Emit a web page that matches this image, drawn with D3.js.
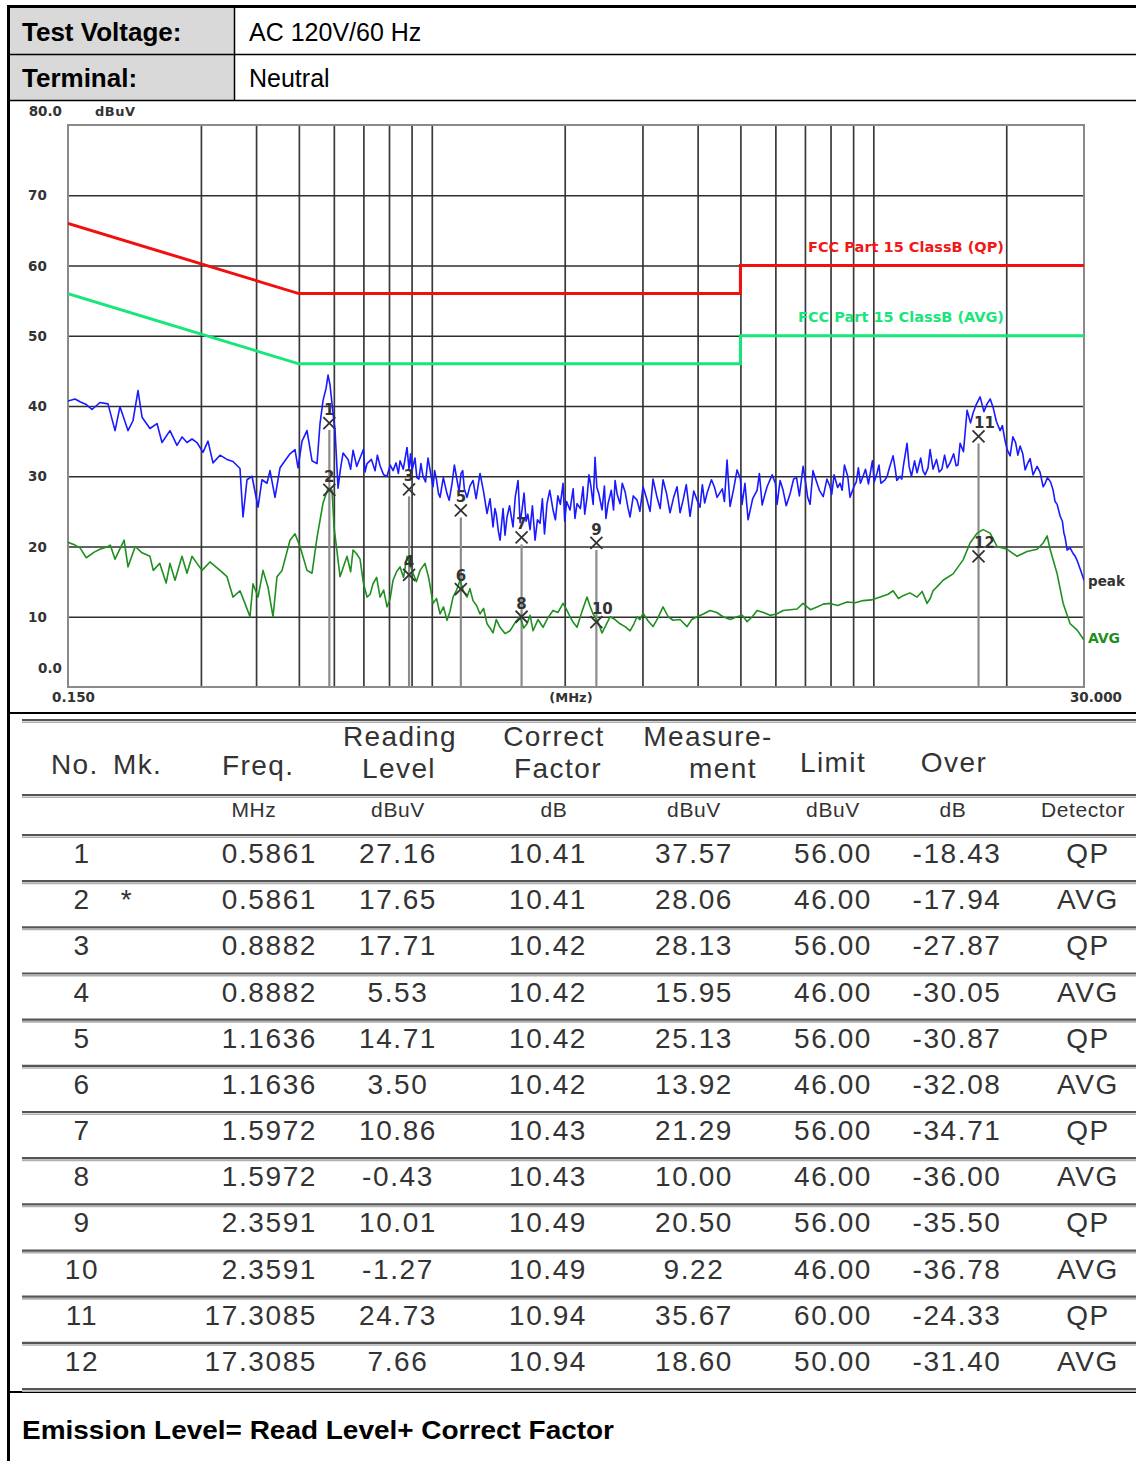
<!DOCTYPE html>
<html><head><meta charset="utf-8">
<script src="https://cdn.jsdelivr.net/npm/d3@7"></script>
<style>body{margin:0;background:#fff}svg{display:block}</style>
</head><body><svg id="c" width="1136" height="1461"></svg>
<script>
// ---------- data ----------
const headerLabels = ["Test Voltage:", "Terminal:"];
const headerValues = ["AC 120V/60 Hz", "Neutral"];
const yTicks = [0, 10, 20, 30, 40, 50, 60, 70, 80];
const yTickLabels = ["0.0", "10", "20", "30", "40", "50", "60", "70", "80.0"];
const xGrid = [0.3, 0.4, 0.5, 0.6, 0.7, 0.8, 0.9, 1, 2, 3, 4, 5, 6, 7, 8, 9, 10, 20];
const xEndLabels = ["0.150", "30.000"];
const xUnit = "(MHz)";
const yUnit = "dBuV";
const qpLimit = [[0.15, 66], [0.5, 56], [5, 56], [5, 60], [30, 60]];
const avgLimit = [[0.15, 56], [0.5, 46], [5, 46], [5, 50], [30, 50]];
const legendQP = "FCC  Part 15 ClassB (QP)";
const legendAVG = "FCC  Part 15 ClassB (AVG)";
const traceNames = ["peak", "AVG"];

// peak (blue) trace, [MHz, dBuV]
const peakTrace = [[0.150,40.7],[0.1556,41.0],[0.1597,40.6],[0.165,40.2],[0.170,39.5],[0.1772,40.5],[0.1848,40.3],[0.1917,36.5],[0.1967,39.9],[0.2051,36.5],[0.2105,37.9],[0.2161,42.2],[0.2207,38.4],[0.2300,36.8],[0.2386,37.5],[0.2449,34.8],[0.2553,36.5],[0.2648,34.4],[0.2720,35.6],[0.2790,34.8],[0.2864,35.3],[0.2939,34.8],[0.3032,33.4],[0.3113,35.0],[0.3195,31.9],[0.3314,33.0],[0.3437,32.4],[0.3546,32.1],[0.3678,31.1],[0.3736,24.2],[0.3815,29.5],[0.3916,30.0],[0.4041,25.6],[0.4125,29.5],[0.4234,29.0],[0.4301,30.8],[0.4415,27.0],[0.4532,31.2],[0.4651,32.2],[0.4774,33.2],[0.4900,33.8],[0.4978,31.2],[0.5083,35.0],[0.5217,36.5],[0.5355,32.2],[0.5497,31.8],[0.5583,37.5],[0.5672,40.8],[0.5761,42.5],[0.5822,44.4],[0.5882,43.0],[0.5944,40.3],[0.6038,36.5],[0.6133,28.3],[0.6210,31.0],[0.6295,33.3],[0.6462,32.4],[0.6633,33.7],[0.6760,31.4],[0.6879,32.6],[0.7000,33.8],[0.7135,31.8],[0.7300,32.4],[0.7440,30.8],[0.7636,31.5],[0.7780,30.2],[0.7919,30.0],[0.8050,31.6],[0.8171,30.8],[0.8300,31.9],[0.8474,32.2],[0.8620,31.0],[0.8788,34.1],[0.8880,31.0],[0.9020,30.8],[0.9162,32.6],[0.9350,29.6],[0.9552,30.0],[0.9805,32.6],[1.0065,28.5],[1.0250,29.5],[1.0439,27.0],[1.0827,27.5],[1.1115,29.0],[1.1408,29.4],[1.1649,30.4],[1.1850,28.2],[1.2018,27.0],[1.2399,29.4],[1.2861,30.4],[1.3100,27.8],[1.3337,24.7],[1.3761,22.8],[1.4000,24.6],[1.4276,20.9],[1.4804,24.2],[1.5274,22.8],[1.5681,29.4],[1.6010,25.2],[1.6350,23.6],[1.6692,22.4],[1.7134,20.9],[1.7586,23.3],[1.8237,26.1],[1.8818,25.2],[1.9300,27.2],[1.9827,29.0],[2.0200,26.4],[2.0564,25.2],[2.1329,26.1],[2.2007,28.5],[2.2469,27.0],[2.2900,28.8],[2.3429,32.7],[2.3900,27.5],[2.4299,25.2],[2.5073,26.1],[2.5500,28.0],[2.6007,29.4],[2.6694,26.1],[2.7400,27.8],[2.8121,24.2],[2.9166,26.6],[3.0093,28.5],[3.1212,25.0],[3.2372,27.0],[3.3401,29.5],[3.4000,27.6],[3.4640,24.8],[3.5933,28.5],[3.7076,26.6],[3.8451,24.3],[3.9885,26.6],[4.1000,28.8],[4.2020,27.6],[4.3000,29.5],[4.4268,27.0],[4.5500,28.2],[4.6634,32.3],[4.7370,25.7],[4.9136,30.9],[5.0435,26.0],[5.1200,29.0],[5.2040,23.8],[5.3300,26.8],[5.4545,28.0],[5.6000,25.9],[5.7461,28.5],[5.9000,30.2],[6.0539,26.0],[6.1500,29.4],[6.2465,28.0],[6.3500,25.8],[6.4779,27.5],[6.6000,29.6],[6.8000,27.2],[6.9327,31.4],[7.0500,28.4],[7.1897,26.0],[7.3000,30.8],[7.4574,29.0],[7.7000,27.1],[7.9797,28.5],[8.1500,30.2],[8.4075,29.0],[8.6000,31.6],[8.8569,27.0],[9.0500,28.6],[9.2500,31.2],[9.4794,30.0],[9.7500,28.9],[9.9500,32.2],[10.197,30.5],[10.400,29.0],[10.632,29.5],[10.850,31.0],[11.084,32.9],[11.300,29.4],[11.497,30.0],[11.700,31.5],[11.923,34.7],[12.200,30.0],[12.563,30.5],[12.800,32.6],[13.100,30.2],[13.443,33.8],[13.655,31.0],[14.100,30.6],[14.500,33.0],[14.920,31.9],[15.400,31.5],[15.722,34.7],[16.000,33.5],[16.305,39.4],[16.824,39.0],[17.451,41.3],[18.099,40.3],[18.675,39.8],[19.371,36.5],[19.883,35.0],[20.408,32.9],[21.000,34.8],[21.500,34.3],[22.068,30.9],[22.653,32.5],[23.495,31.4],[24.243,28.5],[24.800,29.8],[25.540,28.0],[26.079,26.0],[26.491,24.3],[27.000,22.0],[27.477,19.5],[28.351,19.0],[28.949,18.0],[29.406,16.8],[30.000,15.2]];
// extra jagged peak readings between the main points
const peakDetail = [[0.6550,31.0],[0.7060,30.6],[0.7530,33.0],[0.8400,30.4],[0.8950,33.2],[0.9250,29.8],[0.9450,31.8],[0.9680,29.2],[0.9930,30.6],[1.0150,30.8],[1.0350,27.6],[1.0620,29.8],[1.0950,26.6],[1.1250,31.6],[1.1530,27.8],[1.1750,30.8],[1.2200,28.6],[1.2600,26.8],[1.3550,26.8],[1.3900,25.4],[1.4150,22.2],[1.4500,25.4],[1.4650,21.6],[1.5000,25.8],[1.5450,27.0],[1.5850,23.4],[1.6180,27.6],[1.6500,24.6],[1.6900,25.8],[1.7350,23.8],[1.7800,26.8],[1.8000,21.8],[1.8500,28.0],[1.9050,23.8],[1.9550,26.0],[2.0000,23.6],[2.0900,28.2],[2.1100,24.0],[2.1700,25.4],[2.2200,24.6],[2.2700,30.2],[2.3200,26.0],[2.3650,28.4],[2.4600,28.6],[2.4800,24.0],[2.5800,25.2],[2.6300,27.4],[2.7000,29.0],[2.7800,25.6],[2.8600,27.2],[2.9600,25.0],[3.0600,27.0],[3.1700,29.6],[3.2900,25.4],[3.5300,27.0],[3.6500,24.8],[3.7700,28.8],[3.9200,27.9],[4.0500,25.6],[4.1500,26.2],[4.3700,28.4],[4.6000,26.4],[4.8200,28.0],[5.0000,29.6],[5.5200,30.4],[5.6800,27.4],[6.0000,29.0],[6.7000,29.8],[7.1000,27.0],[7.5500,28.0],[7.8500,29.6],[8.0500,27.4],[8.3000,28.4],[8.5000,28.0],[8.7500,30.0],[9.1500,29.2],[9.3500,29.0],[9.6000,31.0],[10.05,29.2],[10.30,31.6],[10.75,30.0],[11.20,31.2],[11.60,29.6],[12.05,31.4],[12.40,32.2],[12.95,30.8],[13.30,31.2],[13.90,32.4],[14.30,31.0],[14.70,31.2],[15.20,33.2],[15.55,31.6],[16.6,37.6],[17.1,40.2],[17.8,39.2],[18.4,41.0],[19.0,37.8],[19.6,37.2],[20.1,33.8],[20.7,35.6],[21.25,33.0],[21.8,33.2],[22.35,31.8],[23.0,30.2],[23.85,30.6],[24.5,29.0],[25.2,29.2],[25.8,26.4],[26.8,23.6],[27.2,21.2],[27.9,19.8],[28.65,18.6],[29.7,16.0]];

// average (green) trace, [MHz, dBuV]
const avgTrace = [[0.150,20.6],[0.1556,20.2],[0.1597,19.8],[0.1650,18.4],[0.1720,19.2],[0.1772,19.6],[0.1848,20.0],[0.1870,20.2],[0.1917,18.2],[0.2010,20.9],[0.2051,17.1],[0.2130,20.0],[0.2207,19.1],[0.2300,18.6],[0.2340,16.6],[0.2420,17.6],[0.2502,14.8],[0.2553,17.6],[0.2621,15.2],[0.2718,18.6],[0.2790,16.2],[0.2864,18.6],[0.2939,17.6],[0.3017,16.6],[0.3145,17.8],[0.3314,16.6],[0.3437,15.7],[0.3546,12.8],[0.3678,13.7],[0.3775,11.9],[0.3875,10.0],[0.3936,14.7],[0.4041,12.8],[0.4147,16.6],[0.4257,14.2],[0.4369,10.0],[0.4461,15.7],[0.4580,16.6],[0.4774,20.9],[0.4900,21.8],[0.5030,20.0],[0.5217,16.6],[0.5355,16.2],[0.5497,21.3],[0.5672,26.2],[0.5822,28.3],[0.5944,28.0],[0.6006,22.8],[0.6197,15.7],[0.6427,18.6],[0.6633,19.5],[0.6879,18.2],[0.7135,12.8],[0.7361,14.7],[0.7636,12.8],[0.7919,11.4],[0.8171,15.2],[0.8474,17.1],[0.8788,18.6],[0.9068,16.2],[0.9405,16.6],[0.9652,17.6],[1.0065,11.9],[1.0439,10.4],[1.0827,9.5],[1.1171,12.8],[1.1588,15.2],[1.2018,12.8],[1.2399,12.3],[1.2861,10.4],[1.3337,9.0],[1.3761,7.7],[1.4276,8.5],[1.5038,8.0],[1.5846,10.0],[1.6434,9.0],[1.6955,8.0],[1.7862,8.5],[1.8818,10.9],[1.9827,11.9],[2.0564,10.0],[2.1329,8.5],[2.2469,12.8],[2.3189,10.4],[2.4299,7.7],[2.5339,10.0],[2.6694,9.0],[2.8121,8.0],[2.9166,10.0],[3.0093,10.5],[3.1702,8.6],[3.3401,11.4],[3.5195,9.5],[3.7852,8.6],[3.9885,10.0],[4.2685,10.9],[4.5675,10.0],[4.9136,10.0],[5.1765,9.3],[5.4545,10.9],[5.8357,10.2],[6.2465,10.9],[6.7190,11.1],[6.9327,11.9],[7.4574,11.4],[7.9797,11.9],[8.7194,12.1],[9.4794,12.3],[10.361,12.8],[11.084,13.7],[11.681,13.0],[12.563,12.8],[13.234,11.9],[13.655,13.7],[14.388,15.2],[15.156,16.1],[15.970,18.1],[16.562,20.5],[17.180,21.9],[17.727,22.4],[18.384,21.9],[19.070,20.0],[20.088,19.6],[21.167,18.6],[22.295,19.3],[23.495,19.6],[24.243,20.5],[24.759,21.5],[25.142,19.6],[26.079,16.1],[26.910,11.9],[27.910,9.0],[28.949,8.1],[30.000,6.7]];
const avgDetail = [[0.6300,17.0],[0.6550,16.4],[0.6750,19.0],[0.7000,14.8],[0.7250,13.2],[0.7500,15.6],[0.7780,13.8],[0.8050,12.6],[0.8320,16.4],[0.8630,15.6],[0.8930,17.4],[0.9230,15.0],[0.9850,15.4],[1.0250,12.6],[1.0630,11.4],[1.1000,10.8],[1.1380,13.8],[1.1800,13.6],[1.2200,14.0],[1.2630,11.6],[1.3100,11.2],[1.3550,8.4],[1.4000,9.6],[1.4650,7.6],[1.5450,9.2],[1.6150,8.4],[1.6700,10.2],[1.7400,9.6],[1.8300,9.8],[1.9300,10.6],[2.0200,11.0],[2.0900,9.2],[2.1900,10.8],[2.2800,11.6],[2.3800,9.2],[2.4800,8.8],[2.6000,9.6],[2.7400,8.6],[2.8700,9.0],[2.9600,9.6],[3.0900,9.4],[3.2500,9.8],[3.4300,10.0],[3.6500,9.6],[3.8800,9.6],[4.1200,10.4],[4.4200,10.6],[4.7400,9.6],[5.0500,10.2],[5.3200,10.0],[5.6400,10.6],[6.0400,10.4],[6.4800,11.0],[7.2000,11.0],[7.7000,11.8],[8.3000,11.6],[9.1000,12.0],[9.9000,12.4],[10.80,13.2],[11.40,12.6],[12.10,13.4],[12.90,13.6],[13.45,12.6],[14.00,14.4]];

const tableNo = ["1","2","3","4","5","6","7","8","9","10","11","12"];
const tableMk = ["","*","","","","","","","","","",""];
const tableFreq = ["0.5861","0.5861","0.8882","0.8882","1.1636","1.1636","1.5972","1.5972","2.3591","2.3591","17.3085","17.3085"];
const tableReading = ["27.16","17.65","17.71","5.53","14.71","3.50","10.86","-0.43","10.01","-1.27","24.73","7.66"];
const tableCorrect = ["10.41","10.41","10.42","10.42","10.42","10.42","10.43","10.43","10.49","10.49","10.94","10.94"];
const tableMeasure = ["37.57","28.06","28.13","15.95","25.13","13.92","21.29","10.00","20.50","9.22","35.67","18.60"];
const tableLimit = ["56.00","46.00","56.00","46.00","56.00","46.00","56.00","46.00","56.00","46.00","60.00","50.00"];
const tableOver = ["-18.43","-17.94","-27.87","-30.05","-30.87","-32.08","-34.71","-36.00","-35.50","-36.78","-24.33","-31.40"];
const tableDetector = ["QP","AVG","QP","AVG","QP","AVG","QP","AVG","QP","AVG","QP","AVG"];
const tableHead1 = ["No.","Mk.","Freq.","Reading","Correct","Measure-","Limit","Over"];
const tableHead2 = ["","","","Level","Factor","ment","",""];
const tableUnits = ["MHz","dBuV","dB","dBuV","dBuV","dB","Detector"];
const footerText = "Emission Level= Read Level+ Correct Factor";

// ---------- drawing ----------
const svg = d3.select("#c");
const W = 1136, H = 1461;
const sans = "Liberation Sans, Arial, Helvetica, sans-serif";
const chartFont = "DejaVu Sans, sans-serif";

// header block
svg.append("rect").attr("x",10).attr("y",8).attr("width",224).attr("height",92).attr("fill","#d9d9d9");
svg.append("g").selectAll("text").data(headerLabels).join("text")
  .attr("x",22).attr("y",(d,i)=>41+i*46).attr("font-family",sans).attr("font-weight","bold")
  .attr("font-size",26).attr("fill","#000").text(d=>d);
svg.append("g").selectAll("text").data(headerValues).join("text")
  .attr("x",249).attr("y",(d,i)=>41+i*46).attr("font-family",sans)
  .attr("font-size",25).attr("fill","#000").text(d=>d);
const frame = svg.append("g").attr("stroke","#000").attr("fill","none");
frame.append("line").attr("x1",7).attr("x2",W).attr("y1",6.5).attr("y2",6.5).attr("stroke-width",3);
frame.append("line").attr("x1",8.5).attr("x2",8.5).attr("y1",5).attr("y2",H).attr("stroke-width",3);
frame.append("line").attr("x1",10).attr("x2",W).attr("y1",54.5).attr("y2",54.5).attr("stroke-width",1.5);
frame.append("line").attr("x1",10).attr("x2",W).attr("y1",100.5).attr("y2",100.5).attr("stroke-width",1.5);
frame.append("line").attr("x1",234.5).attr("x2",234.5).attr("y1",8).attr("y2",100).attr("stroke-width",1.5);
frame.append("line").attr("x1",10).attr("x2",W).attr("y1",713).attr("y2",713).attr("stroke-width",2);
frame.append("line").attr("x1",10).attr("x2",W).attr("y1",1392).attr("y2",1392).attr("stroke-width",2);

// chart
const x = d3.scaleLog().domain([0.15, 30]).range([68, 1084]);
const y = d3.scaleLinear().domain([0, 80]).range([687, 125]);
const pw = 1084 - 68, ph = 687 - 125;
const chart = svg.append("g");
svg.append("defs").append("clipPath").attr("id","clip").append("rect")
  .attr("x",68).attr("y",125).attr("width",pw).attr("height",ph);

const gx = chart.append("g").attr("transform","translate(0,687)")
  .call(d3.axisBottom(x).tickValues(xGrid).tickSize(-ph).tickFormat(""));
gx.select(".domain").remove();
gx.selectAll(".tick line").attr("stroke","#3a3a3a").attr("stroke-width",1.7);
const gy = chart.append("g").attr("transform","translate(68,0)")
  .call(d3.axisLeft(y).tickValues(yTicks.slice(1,-1)).tickSize(-pw).tickFormat(""));
gy.select(".domain").remove();
gy.selectAll(".tick line").attr("stroke","#2e2e2e").attr("stroke-width",1.7);
chart.append("rect").attr("x",68).attr("y",125).attr("width",pw).attr("height",ph)
  .attr("fill","none").attr("stroke","#8a8a8a").attr("stroke-width",2);

// marker vertical lines
const markerFreq = tableFreq.map(Number);
const markerLevel = tableMeasure.map(Number);
const mlines = d3.rollups(markerFreq.map((f,i)=>[f,markerLevel[i]]), v=>d3.max(v,d=>d[1]), d=>d[0]);
chart.append("g").selectAll("line").data(mlines).join("line")
  .attr("x1",d=>x(d[0])).attr("x2",d=>x(d[0])).attr("y1",d=>y(d[1])+7).attr("y2",687)
  .attr("stroke","#8c8c8c").attr("stroke-width",2.2);

// y tick labels
const lblFill = "#333";
chart.append("g").selectAll("text").data(yTicks).join("text")
  .attr("x",(d,i)=> (i===0||i===yTicks.length-1) ? 62 : 28)
  .attr("text-anchor",(d,i)=> (i===0||i===yTicks.length-1) ? "end" : "start")
  .attr("y",(d,i)=> i===0 ? y(d)-14 : (i===yTicks.length-1 ? y(d)-9 : y(d)+5))
  .attr("font-family",chartFont).attr("font-weight","bold").attr("font-size",13.5)
  .attr("fill",lblFill).text((d,i)=>yTickLabels[i]);
chart.append("text").attr("x",95).attr("y",y(80)-9).attr("font-family",chartFont).attr("font-weight","bold")
  .attr("font-size",13).attr("fill",lblFill).attr("textLength",40).text(yUnit);
chart.append("g").selectAll("text").data([0.15,30]).join("text")
  .attr("x",(d,i)=> i===0 ? x(d)-16 : x(d)+38).attr("text-anchor",(d,i)=> i===0 ? "start" : "end")
  .attr("y",702).attr("font-family",chartFont).attr("font-weight","bold").attr("font-size",13.5)
  .attr("fill",lblFill).attr("textLength",(d,i)=> i===0 ? 43 : 52).text((d,i)=>xEndLabels[i]);
chart.append("text").attr("x",571).attr("y",702).attr("text-anchor","middle").attr("font-family",chartFont)
  .attr("font-weight","bold").attr("font-size",13).attr("fill",lblFill).text(xUnit);

// limit lines
const line = d3.line().x(d=>x(d[0])).y(d=>y(d[1]));
const plot = chart.append("g").attr("clip-path","url(#clip)");
plot.append("path").datum(avgLimit).attr("d",line).attr("fill","none").attr("stroke","#17e67a").attr("stroke-width",3);
plot.append("path").datum(qpLimit).attr("d",line).attr("fill","none").attr("stroke","#f01010").attr("stroke-width",3);

// traces
const byFreq = (a,b)=>a[0]-b[0];
const avgAll = avgTrace.concat(avgDetail).sort(byFreq);
const peakAll = peakTrace.concat(peakDetail).sort(byFreq);
plot.append("path").datum(avgAll).attr("d",line).attr("fill","none").attr("stroke","#1f8f1f")
  .attr("stroke-width",1.6).attr("stroke-linejoin","round");
plot.append("path").datum(peakAll).attr("d",line).attr("fill","none").attr("stroke","#1a1aff")
  .attr("stroke-width",1.6).attr("stroke-linejoin","round");

// legend texts
chart.append("text").attr("x",1004).attr("y",252).attr("text-anchor","end").attr("font-family",chartFont)
  .attr("font-weight","bold").attr("font-size",14).attr("fill","#f01818").attr("textLength",196)
  .attr("lengthAdjust","spacingAndGlyphs").text(legendQP);
chart.append("text").attr("x",1004).attr("y",322).attr("text-anchor","end").attr("font-family",chartFont)
  .attr("font-weight","bold").attr("font-size",14).attr("fill","#17e67a").attr("textLength",206)
  .attr("lengthAdjust","spacingAndGlyphs").text(legendAVG);
chart.append("text").attr("x",1088).attr("y",y(peakTrace[peakTrace.length-1][1])+6).attr("font-family",chartFont)
  .attr("font-weight","bold").attr("font-size",13.5).attr("fill","#333").attr("textLength",37).text(traceNames[0]);
chart.append("text").attr("x",1088).attr("y",y(avgTrace[avgTrace.length-1][1])+3).attr("font-family",chartFont)
  .attr("font-weight","bold").attr("font-size",14).attr("fill","#1f8f1f").attr("textLength",32).text(traceNames[1]);

// markers
const mk = chart.append("g");
markerFreq.forEach((f,i)=>{
  const cx = x(f), cy = y(markerLevel[i]);
  mk.append("path").attr("d",`M${cx-6},${cy-6}L${cx+6},${cy+6}M${cx-6},${cy+6}L${cx+6},${cy-6}`)
    .attr("stroke","#333").attr("stroke-width",1.8).attr("fill","none");
  const dx = tableNo[i].length > 1 ? 6 : 0;
  mk.append("text").attr("x",cx+dx).attr("y",cy-8).attr("text-anchor","middle")
    .attr("font-family",chartFont).attr("font-weight","bold").attr("font-size",15).attr("fill","#333").text(tableNo[i]);
});

// ---------- table ----------
const tb = svg.append("g").attr("font-family",sans).attr("fill","#333");
const rowTop = 835, rowH = 46.17;
const sepY = [720, 795, 835].concat(d3.range(1,13).map(k=>rowTop + k*rowH));
const seps = tb.append("g");
seps.selectAll("line.a").data(sepY).join("line").attr("class","a")
  .attr("x1",22).attr("x2",W).attr("y1",d=>d).attr("y2",d=>d).attr("stroke","#555").attr("stroke-width",2.2);
seps.selectAll("line.b").data(sepY).join("line").attr("class","b")
  .attr("x1",22).attr("x2",W).attr("y1",d=>d+2.2).attr("y2",d=>d+2.2).attr("stroke","#b0b0b0").attr("stroke-width",1.6);

const headX = [51, 113, 222, 400, 554, 708, 833, 954];
const headAnchor = ["start","start","start","middle","middle","middle","middle","middle"];
const headY1 = [774, 774, 775, 746, 746, 746, 772, 772];
tb.append("g").selectAll("text").data(tableHead1).join("text")
  .attr("x",(d,i)=>headX[i]).attr("y",(d,i)=>headY1[i]).attr("text-anchor",(d,i)=>headAnchor[i])
  .attr("font-size",28).attr("letter-spacing",1.4).text(d=>d);
const head2X = [0,0,0,399,558,723,0,0];
tb.append("g").selectAll("text").data(tableHead2).join("text")
  .attr("x",(d,i)=>head2X[i]).attr("y",778).attr("text-anchor","middle")
  .attr("font-size",28).attr("letter-spacing",1.4).text(d=>d);
const unitX = [254, 398, 554, 694, 833, 953, 1083];
tb.append("g").selectAll("text").data(tableUnits).join("text")
  .attr("x",(d,i)=>unitX[i]).attr("y",817).attr("text-anchor","middle")
  .attr("font-size",21).attr("letter-spacing",0.6).text(d=>d);

const cols = [
  {v:tableNo, x:82, a:"middle"},
  {v:tableMk, x:127, a:"middle"},
  {v:tableFreq, x:317, a:"end"},
  {v:tableReading, x:398, a:"middle"},
  {v:tableCorrect, x:548, a:"middle"},
  {v:tableMeasure, x:694, a:"middle"},
  {v:tableLimit, x:833, a:"middle"},
  {v:tableOver, x:957, a:"middle"},
  {v:tableDetector, x:1088, a:"middle"}
];
cols.forEach(c=>{
  tb.append("g").selectAll("text").data(c.v).join("text")
    .attr("x",c.x).attr("y",(d,i)=>rowTop + 28 + i*rowH).attr("text-anchor",c.a)
    .attr("font-size",28).attr("letter-spacing",1.6).text(d=>d);
});

// footer
svg.append("text").attr("x",22).attr("y",1439).attr("font-family",sans).attr("font-weight","bold")
  .attr("font-size",26).attr("fill","#000").attr("textLength",592).attr("lengthAdjust","spacingAndGlyphs").text(footerText);
</script></body></html>
